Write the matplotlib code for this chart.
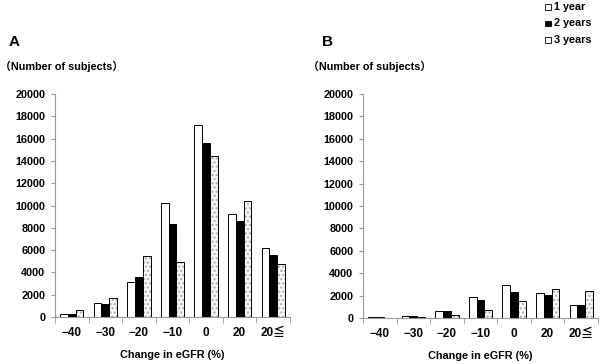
import numpy as np
import matplotlib.pyplot as plt

plt.rcParams['font.family'] = ['Liberation Sans', 'Noto Sans CJK JP', 'DejaVu Sans']

categories = ['−40', '−30', '−20', '−10', '0', '20', '20≦']
series = ['1 year', '2 years', '3 years']

# panel A
a_1yr = [300, 1250, 3150, 10250, 17250, 9250, 6200]
a_2yr = [300, 1150, 3600, 8350, 15650, 8600, 5600]
a_3yr = [620, 1700, 5450, 4950, 14450, 10400, 4750]

# panel B
b_1yr = [90, 180, 590, 1850, 2940, 2200, 1200]
b_2yr = [90, 150, 590, 1650, 2290, 2060, 1120]
b_3yr = [30, 60, 290, 740, 1560, 2620, 2410]

yticks = np.arange(0, 20001, 2000)

fig = plt.figure(figsize=(6, 3.64), dpi=100)
W, H = 600, 364


def panel(rect, vals, letter, letter_x, sub_x):
    ax = fig.add_axes(rect)
    x = np.arange(len(categories))
    w = 0.23
    ax.bar(x - w, vals[0], w, color='white', edgecolor='black', lw=0.7)
    ax.bar(x, vals[1], w, color='black', edgecolor='black', lw=0.7)
    ax.bar(x + w, vals[2], w, color='#f7f7f7', edgecolor='#aaaaaa', lw=0, hatch='....')
    ax.bar(x + w, vals[2], w, color='none', edgecolor='black', lw=0.7)
    ax.set_xlim(-0.5, len(categories) - 0.5)
    ax.set_ylim(0, 20000)
    ax.set_yticks(yticks)
    ax.set_yticklabels([str(v) for v in yticks], fontsize=7.8, fontweight='bold')
    ax.set_xticks(x)
    ax.set_xticklabels(categories, fontsize=8.5, fontweight='bold')
    ax.set_xticks(np.arange(-0.5, len(categories)), minor=True)
    ax.tick_params(axis='x', which='major', length=0, pad=7)
    ax.tick_params(axis='x', which='minor', length=4, color='#999999', direction='out')
    ax.tick_params(axis='y', length=3, color='#999999', pad=4)
    for s in ['top', 'right']:
        ax.spines[s].set_visible(False)
    for s in ['left', 'bottom']:
        ax.spines[s].set_color('#999999')
        ax.spines[s].set_linewidth(0.8)
    ax.set_xlabel('Change in eGFR (%)', fontsize=7.8, fontweight='bold', labelpad=8)
    fig.text(letter_x / W, 1 - 42 / H, letter, fontsize=11, fontweight='bold', va='center')
    fig.text(sub_x / W, 1 - 66 / H, '（Number of subjects）', fontsize=7.8, fontweight='bold', va='center')
    return ax


panel([55 / W, 47 / H, 235 / W, 223 / H], [a_1yr, a_2yr, a_3yr], 'A', 9, 0)
panel([363 / W, 46 / H, 235 / W, 224 / H], [b_1yr, b_2yr, b_3yr], 'B', 322, 308)

# legend
marker_fc = ['white', 'black', 'white']
for i, (lab, fc) in enumerate(zip(series, marker_fc)):
    yy = 1 - (7 + 16.5 * i) / H
    fig.patches.append(plt.Rectangle((545 / W, yy - 2.8 / H), 5.5 / W, 5.5 / H,
                                     facecolor=fc, edgecolor='black', lw=0.6,
                                     transform=fig.transFigure))
    fig.text(554 / W, yy, lab, fontsize=7.8, fontweight='bold', va='center')

fig.savefig('out.png', dpi=100)
